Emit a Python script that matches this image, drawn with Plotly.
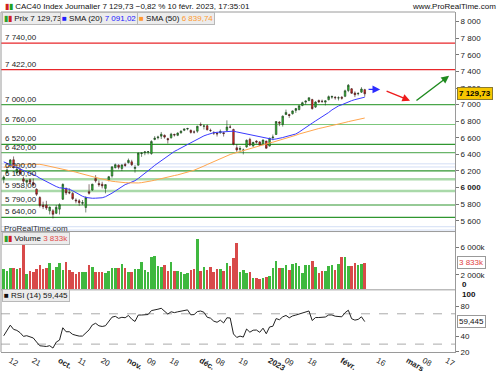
import pandas as pd
import plotly.graph_objects as go
from plotly.subplots import make_subplots

# ---------------- data ----------------
dates = [
    "2022-09-08", "2022-09-09", "2022-09-12", "2022-09-13", "2022-09-14", "2022-09-15", "2022-09-16",
    "2022-09-19", "2022-09-20", "2022-09-21", "2022-09-22", "2022-09-23", "2022-09-26", "2022-09-27",
    "2022-09-28", "2022-09-29", "2022-09-30",
    "2022-10-03", "2022-10-04", "2022-10-05", "2022-10-06", "2022-10-07", "2022-10-10", "2022-10-11",
    "2022-10-12", "2022-10-13", "2022-10-14", "2022-10-17", "2022-10-18", "2022-10-19", "2022-10-20",
    "2022-10-21", "2022-10-24", "2022-10-25", "2022-10-26", "2022-10-27", "2022-10-28", "2022-10-31",
    "2022-11-01", "2022-11-02", "2022-11-03", "2022-11-04", "2022-11-07", "2022-11-08", "2022-11-09",
    "2022-11-10", "2022-11-11", "2022-11-14", "2022-11-15", "2022-11-16", "2022-11-17", "2022-11-18",
    "2022-11-21", "2022-11-22", "2022-11-23", "2022-11-24", "2022-11-25", "2022-11-28", "2022-11-29",
    "2022-11-30",
    "2022-12-01", "2022-12-02", "2022-12-05", "2022-12-06", "2022-12-07", "2022-12-08", "2022-12-09",
    "2022-12-12", "2022-12-13", "2022-12-14", "2022-12-15", "2022-12-16", "2022-12-19", "2022-12-20",
    "2022-12-21", "2022-12-22", "2022-12-23", "2022-12-27", "2022-12-28", "2022-12-29", "2022-12-30",
    "2023-01-02", "2023-01-03", "2023-01-04", "2023-01-05", "2023-01-06", "2023-01-09", "2023-01-10",
    "2023-01-11", "2023-01-12", "2023-01-13", "2023-01-16", "2023-01-17", "2023-01-18", "2023-01-19",
    "2023-01-20", "2023-01-23", "2023-01-24", "2023-01-25", "2023-01-26", "2023-01-27", "2023-01-30",
    "2023-01-31",
    "2023-02-01", "2023-02-02", "2023-02-03", "2023-02-06", "2023-02-07", "2023-02-08", "2023-02-09",
    "2023-02-10",
]

opens = [
    6100, 6180, 6250, 6335, 6180, 6215, 6105, 6065, 6095, 6060, 5980, 5880, 5790, 5790, 5720, 5720, 5690,
    5740, 5860, 5990, 5940, 5930, 5850, 5840, 5810, 5760, 5950, 5970, 6110, 6050, 6040, 5990, 6090, 6140,
    6240, 6270, 6230, 6280,
    6300, 6310, 6230, 6270, 6410, 6420, 6430, 6410, 6580, 6600, 6620, 6630, 6590, 6600, 6640, 6630, 6660,
    6690, 6705, 6690, 6670, 6680,
    6760, 6740, 6745, 6690, 6660, 6655, 6660, 6660, 6690, 6730, 6700, 6480, 6460, 6450, 6490, 6580, 6500,
    6560, 6550, 6520, 6560,
    6500, 6600, 6640, 6790, 6760, 6880, 6880, 6890, 6930, 6940, 6990, 7030, 7050, 7060, 6970, 7050, 7040,
    7030, 7060, 7090, 7090, 7080,
    7090, 7100, 7170, 7190, 7140, 7130, 7150, 7180,
]
highs = [
    6146, 6229, 6344, 6375, 6245, 6240, 6130, 6090, 6110, 6110, 5990, 5895, 5830, 5840, 5770, 5740, 5790,
    5810, 6050, 6000, 5990, 5945, 5870, 5860, 5850, 5895, 6040, 6045, 6150, 6085, 6070, 6040, 6140, 6255,
    6290, 6280, 6280, 6300,
    6350, 6335, 6270, 6420, 6425, 6440, 6440, 6570, 6620, 6625, 6670, 6640, 6600, 6660, 6650, 6665, 6690,
    6710, 6720, 6700, 6690, 6745,
    6785, 6760, 6760, 6710, 6680, 6670, 6700, 6670, 6810, 6755, 6710, 6525, 6500, 6470, 6580, 6600, 6550,
    6570, 6560, 6580, 6565,
    6600, 6640, 6800, 6800, 6870, 6940, 6890, 6930, 6960, 6990, 7035, 7050, 7085, 7070, 7040, 7060, 7060,
    7050, 7110, 7110, 7100, 7100,
    7100, 7180, 7248, 7200, 7160, 7150, 7210, 7190,
]
lows = [
    6052, 6168, 6240, 6230, 6170, 6150, 6050, 6010, 6040, 6020, 5900, 5760, 5740, 5730, 5676, 5628, 5680,
    5676, 5850, 5910, 5920, 5850, 5810, 5780, 5790, 5700, 5915, 5960, 6060, 6010, 5990, 5930, 6075, 6120,
    6230, 6220, 6200, 6250,
    6290, 6260, 6180, 6265, 6370, 6390, 6400, 6395, 6570, 6580, 6585, 6590, 6530, 6590, 6615, 6620, 6650,
    6680, 6690, 6650, 6650, 6660,
    6740, 6700, 6690, 6670, 6635, 6615, 6650, 6615, 6680, 6715, 6510, 6430, 6440, 6400, 6480, 6500, 6495,
    6530, 6505, 6510, 6470,
    6495, 6570, 6635, 6740, 6735, 6875, 6840, 6880, 6900, 6930, 6980, 7000, 7040, 6940, 6960, 7020, 7020,
    6990, 7050, 7070, 7060, 7050,
    7060, 7090, 7150, 7130, 7090, 7110, 7140, 7095,
]
closes = [
    6126, 6212, 6333, 6245, 6222, 6169, 6077, 6089, 6064, 6032, 5919, 5783, 5769, 5754, 5765, 5677, 5762,
    5794, 6039, 5936, 5936, 5866, 5840, 5818, 5819, 5879, 5932, 6041, 6081, 6034, 6021, 6036, 6131, 6250,
    6276, 6245, 6273, 6267,
    6328, 6276, 6243, 6416, 6416, 6430, 6431, 6556, 6595, 6609, 6643, 6608, 6576, 6644, 6634, 6657, 6680,
    6707, 6712, 6665, 6669, 6739,
    6753, 6742, 6696, 6687, 6658, 6647, 6677, 6651, 6730, 6728, 6522, 6453, 6471, 6452, 6570, 6513, 6545,
    6548, 6510, 6573, 6474,
    6595, 6609, 6796, 6776, 6861, 6906, 6869, 6924, 6952, 6986, 7023, 7043, 7083, 6951, 7031, 7032, 7039,
    7045, 7096, 7097, 7083, 7082,
    7077, 7166, 7233, 7137, 7119, 7134, 7188, 7129.73,
]
volumes_k = [
    2884, 2651, 3023, 3023, 2884, 3023, 6512, 2186, 2698, 2465, 2930, 3442, 2884, 3023, 3721, 2791, 3256,
    3721, 2791, 3860, 2791, 2558, 2186, 2465, 2465, 2465, 3535, 3256, 2512, 2558, 2419, 2326, 2651, 3023,
    3116, 3116, 3628, 3116,
    2558, 2419, 2977, 2884, 3953, 2791, 2465, 4651, 4791, 3349, 3256, 3488, 2651, 3860, 2651, 2651, 2419,
    2186, 2326, 2791, 2884, 7209,
    2651, 3256, 2791, 3256, 2465, 2884, 2884, 2700, 3814, 3349, 4512, 6651, 2465, 2791, 2326, 2465, 1628,
    1628, 1488, 1628, 1767,
    1860, 3023, 4000, 3070, 3023, 3535, 2837, 3674, 3767, 3302, 2372, 3535, 3488, 4000, 3163, 2372, 2698,
    2605, 3302, 3535, 2837, 3581,
    4698, 4651, 3302, 3302, 3767, 3535, 3600, 3833,
]
# closes before the visible window (29 Jun - 7 Sep 2022), used for SMA / RSI warm-up
pre_closes = [
    6019, 5923, 5931, 5833, 5795, 5915, 6007, 6033, 5997, 5972, 5958, 5915, 6036, 6101, 6185, 6201, 6201,
    6216, 6210, 6211, 6254, 6358, 6448, 6437, 6409, 6434, 6472, 6472, 6490, 6491, 6523, 6544, 6553, 6569,
    6593, 6509, 6558, 6495, 6362, 6379, 6388, 6382, 6274, 6222, 6211, 6125, 6034, 6168, 6094, 6105, 6045,
]
market_holidays = ["2022-12-26"]

level_values = [7740, 7422, 7000, 6760, 6520, 6420, 6200, 6100, 5958, 5790, 5640]
level_labels = ["7 740,00", "7 422,00", "7 000,00", "6 760,00", "6 520,00", "6 420,00",
                "6 200,00", "6 100,00", "5 958,00", "5 790,00", "5 640,00"]
level_colors = ["#e8262a", "#e8262a", "#4aa64a", "#7cc77c", "#2f962f", "#6ab56a",
                "#2f962f", "#a9d9a9", "#a9d9a9", "#2f962f", "#2f962f"]
level_widths = [1.2, 1.2, 1.2, 1.2, 1.2, 1.2, 1.2, 2.5, 2.5, 1.2, 1.2]
faint_levels = [6286, 6248, 5528, 5488]

price_ticks = [5600, 5800, 6000, 6200, 6400, 6600, 6800, 7000, 7200, 7400, 7600, 7800, 8000]
price_ticktext = ["5 600", "5 800", "<b>6 000</b>", "6 200", "6 400", "6 600", "6 800", "7 000",
                  "7 200", "7 400", "7 600", "7 800", "8 000"]
vol_ticks = [2000000, 6000000]
vol_ticktext = ["2 000k", "6 000k"]
rsi_ticks = [20, 40, 80]
rsi_ticktext = ["20", "40", "80"]
date_ticks = ["2022-09-12", "2022-09-21", "2022-10-03", "2022-10-11", "2022-10-20", "2022-11-01",
              "2022-11-09", "2022-11-18", "2022-12-01", "2022-12-08", "2022-12-19", "2023-01-02",
              "2023-01-09", "2023-01-18", "2023-02-01", "2023-02-16", "2023-03-01", "2023-03-08",
              "2023-03-17"]
date_ticktext = ["12", "21", "<b>oct.</b>", "11", "20", "<b>nov.</b>", "09", "18", "<b>déc.</b>", "08",
                 "19", "<b>2023</b>", "09", "18", "<b>févr.</b>", "16", "<b>mars</b>", "08", "17"]
view_start, view_end = "2022-09-12", "2023-03-17"   # first / last labelled sessions
view_pad_left, view_pad_right = 2.83, 2.5           # sessions of blank space beyond them

# hand-drawn projection arrows: start / end in sessions after the last bar, and price
arrow_dx0 = [0.7, 6.2, 15.3]
arrow_y0 = [7183, 7171, 7035]
arrow_dx1 = [4.7, 13.8, 25.7]
arrow_y1 = [7183, 7047, 7347]
arrow_colors = ["#2b2bff", "#ee1c1c", "#1e8a1e"]

last_price_text = "7 129,73"
last_vol_text = "3 833k"
rsi_last = 59.445
rsi_last_text = "59,445"
sma20_last_text = "7 091,02"
sma50_last_text = "6 839,74"

# ---------------- session calendar (trading days only, like the original chart) ----------------
sessions = [d.strftime("%Y-%m-%d") for d in pd.bdate_range(dates[0], "2023-03-31")
            if d.strftime("%Y-%m-%d") not in market_holidays]
pos = {d: i for i, d in enumerate(sessions)}
xs = [pos[d] for d in dates]
x_last = xs[-1]

# ---------------- indicators ----------------
n_pre = len(pre_closes)
allc = pd.Series(pre_closes + closes, dtype=float)
sma20 = allc.rolling(20).mean().iloc[n_pre:].tolist()
sma50 = allc.rolling(50).mean().iloc[n_pre:].tolist()
delta = allc.diff().fillna(0)
gain = delta.clip(lower=0).ewm(alpha=1 / 14, adjust=False).mean()
loss = (-delta.clip(upper=0)).ewm(alpha=1 / 14, adjust=False).mean()
rsi = (100 - 100 / (1 + gain / loss)).iloc[n_pre:].tolist()

volumes = [v * 1000 for v in volumes_k]
vol_colors = ["#3fb83f" if c >= o else "#d84a4a" for o, c in zip(opens, closes)]

# ---------------- figure ----------------
FONT = "Liberation Sans"
fig = make_subplots(rows=3, cols=1, shared_xaxes=True, vertical_spacing=0)

fig.add_trace(go.Candlestick(
    x=xs, open=opens, high=highs, low=lows, close=closes,
    increasing=dict(line=dict(color="#1d3d1d", width=0.6), fillcolor="#2fbf2f"),
    decreasing=dict(line=dict(color="#3d1d1d", width=0.6), fillcolor="#e8261f"),
    whiskerwidth=0, showlegend=False), row=1, col=1)
fig.add_trace(go.Scatter(x=xs, y=sma20, mode="lines", line=dict(color="#3a3aff", width=1),
                         showlegend=False), row=1, col=1)
fig.add_trace(go.Scatter(x=xs, y=sma50, mode="lines", line=dict(color="#ffa64d", width=1),
                         showlegend=False), row=1, col=1)
fig.add_trace(go.Bar(x=xs, y=volumes, marker=dict(color=vol_colors, line=dict(width=0)),
                     width=0.78, showlegend=False), row=2, col=1)
fig.add_trace(go.Scatter(x=xs, y=rsi, mode="lines", line=dict(color="#222222", width=1),
                         showlegend=False), row=3, col=1)

H_TOP, H_BOT, PLOT_H = 12, 13, 350
def py(p):  # pixel row -> paper y
    return (375 - H_BOT - p) / PLOT_H

def px(p):  # pixel column -> paper x
    return (p - 1) / 454

shapes = []
for v, c, w in zip(level_values, level_colors, level_widths):
    shapes.append(dict(type="line", xref="paper", x0=0, x1=1, yref="y", y0=v, y1=v,
                       line=dict(color=c, width=w), layer="below"))
for v in faint_levels:
    shapes.append(dict(type="line", xref="paper", x0=0, x1=1, yref="y", y0=v, y1=v,
                       line=dict(color="#d3def5", width=1), layer="below"))
for v in [70, 30]:
    shapes.append(dict(type="line", xref="paper", x0=0, x1=1, yref="y3", y0=v, y1=v,
                       line=dict(color="#aaaaaa", width=1, dash="dash"), layer="below"))
for p in [238, 298]:
    shapes.append(dict(type="line", xref="paper", x0=0, x1=1, yref="paper", y0=py(p), y1=py(p),
                       line=dict(color="#9a9a9a", width=1)))
shapes.append(dict(type="line", xref="paper", x0=0, x1=1, yref="paper", y0=1, y1=1,
                   line=dict(color="#9a9a9a", width=1)))
shapes.append(dict(type="line", xref="paper", x0=0, x1=0, yref="paper", y0=0, y1=1,
                   line=dict(color="#9a9a9a", width=1)))

ann = []
for v, t in zip(level_values, level_labels):
    ann.append(dict(xref="paper", x=0.004, yref="y", y=v, text=t, showarrow=False,
                    xanchor="left", yanchor="bottom", yshift=-1,
                    font=dict(family=FONT, size=8, color="#222")))
for dx0, y0, dx1, y1, c in zip(arrow_dx0, arrow_y0, arrow_dx1, arrow_y1, arrow_colors):
    ann.append(dict(x=x_last + dx1, y=y1, ax=x_last + dx0, ay=y0, xref="x", yref="y",
                    axref="x", ayref="y", text="", showarrow=True, arrowhead=2, arrowsize=1.1,
                    arrowwidth=1.4, arrowcolor=c))

ann.append(dict(xref="paper", yref="paper", x=px(3), y=py(6.5), xanchor="left", yanchor="middle",
                showarrow=False,
                text="<span style='color:#d02020'>▮</span><span style='color:#20a020'>▮</span> "
                     "CAC40 Index Journalier 7 129,73 −0,82 % 10 févr. 2023, 17:35:01",
                font=dict(family=FONT, size=8, color="#111")))
ann.append(dict(xref="paper", yref="paper", x=px(498), y=py(6.5), xanchor="right", yanchor="middle",
                showarrow=False, text="www.ProRealTime.com",
                font=dict(family=FONT, size=8, color="#111")))

box = dict(showarrow=False, xref="paper", yref="paper", xanchor="left", yanchor="middle",
           bgcolor="#ececec", bordercolor="#b8b8b8", borderwidth=1, borderpad=1)
ann.append(dict(box, x=px(2), y=py(18.5),
                text="<span style='color:#2aa02a'>▮</span><span style='color:#d02020'>▮</span> Prix "
                     + last_price_text,
                font=dict(family=FONT, size=8, color="#111")))
ann.append(dict(box, x=px(60), y=py(18.5),
                text="<span style='color:#2020ff'>■</span> SMA (20) <span style='color:#2020ff'>"
                     + sma20_last_text + "</span>",
                font=dict(family=FONT, size=8, color="#111")))
ann.append(dict(box, x=px(137), y=py(18.5),
                text="<span style='color:#ff9a2e'>■</span> SMA (50) <span style='color:#ff9a2e'>"
                     + sma50_last_text + "</span>",
                font=dict(family=FONT, size=8, color="#111")))
ann.append(dict(box, x=px(2), y=py(245),
                text="<span style='color:#2aa02a'>▮</span><span style='color:#d02020'>▮</span> Volume "
                     "<span style='color:#e04a4a'>" + last_vol_text + "</span>",
                font=dict(family=FONT, size=8, color="#111")))
ann.append(dict(box, x=px(2), y=py(304),
                text="■ RSI (14) " + rsi_last_text,
                font=dict(family=FONT, size=8, color="#111")))
ann.append(dict(xref="paper", yref="paper", x=px(2), y=py(234.5), xanchor="left", yanchor="middle",
                showarrow=False, text="ProRealTime.com",
                font=dict(family=FONT, size=8, color="#333")))

side = dict(xref="paper", x=px(457), xanchor="left", yanchor="middle", showarrow=False,
            borderwidth=1, borderpad=1)
ann.append(dict(side, yref="y", y=closes[-1], text="<b>" + last_price_text + "</b>",
                bgcolor="#f6c700", bordercolor="#8a7a30",
                font=dict(family=FONT, size=8, color="#000")))
ann.append(dict(side, yref="y2", y=volumes[-1], text=last_vol_text,
                bgcolor="#ffffff", bordercolor="#999999",
                font=dict(family=FONT, size=8, color="#e04040")))
ann.append(dict(side, yref="y3", y=rsi_last, text=rsi_last_text,
                bgcolor="#ffffff", bordercolor="#999999",
                font=dict(family=FONT, size=8, color="#111")))
# zero-volume and RSI 100 labels sit slightly inside their panels, as in the original
ann.append(dict(xref="paper", x=px(460), xanchor="left", yref="paper", y=py(293), yanchor="middle",
                showarrow=False, text="<b>0</b>", font=dict(family=FONT, size=8, color="#111")))
ann.append(dict(xref="paper", x=px(460), xanchor="left", yref="paper", y=py(303), yanchor="middle",
                showarrow=False, text="<b>100</b>", font=dict(family=FONT, size=8, color="#111")))

fig.update_layout(
    width=500, height=375,
    margin=dict(l=1, r=45, t=H_TOP, b=H_BOT),
    paper_bgcolor="white", plot_bgcolor="white",
    font=dict(family=FONT, size=8, color="#222"),
    showlegend=False, bargap=0,
    shapes=shapes, annotations=ann,
    yaxis=dict(domain=[py(238), 1]),
    yaxis2=dict(domain=[py(298), py(238)]),
    yaxis3=dict(domain=[0, py(298)]),
)
fig.update_xaxes(
    type="linear", range=[pos[view_start] - view_pad_left, pos[view_end] + view_pad_right],
    showgrid=False, zeroline=False, rangeslider_visible=False,
    tickvals=[pos[d] for d in date_ticks], ticktext=date_ticktext, showticklabels=False,
    showline=False,
)
fig.update_xaxes(showticklabels=True, ticks="", showline=True, linecolor="#9a9a9a",
                 tickfont=dict(family=FONT, size=8, color="#222"), row=3, col=1)
common_y = dict(side="right", showgrid=False, zeroline=False, ticks="outside", ticklen=3,
                tickcolor="#777", showline=True, linecolor="#9a9a9a",
                tickfont=dict(family=FONT, size=8, color="#222"))
fig.update_yaxes(common_y, range=[5470, 8116], tickvals=price_ticks, ticktext=price_ticktext,
                 row=1, col=1)
fig.update_yaxes(common_y, range=[-139000, 8228000], tickvals=vol_ticks, ticktext=vol_ticktext,
                 row=2, col=1)
fig.update_yaxes(common_y, range=[19.6, 101.6], tickvals=rsi_ticks, ticktext=rsi_ticktext,
                 row=3, col=1)

# the page's default 8px body margin would push the fixed-size chart off the window
fig.write_html("out.html", config={"displayModeBar": False},
               post_script="document.body.style.margin='0';")
